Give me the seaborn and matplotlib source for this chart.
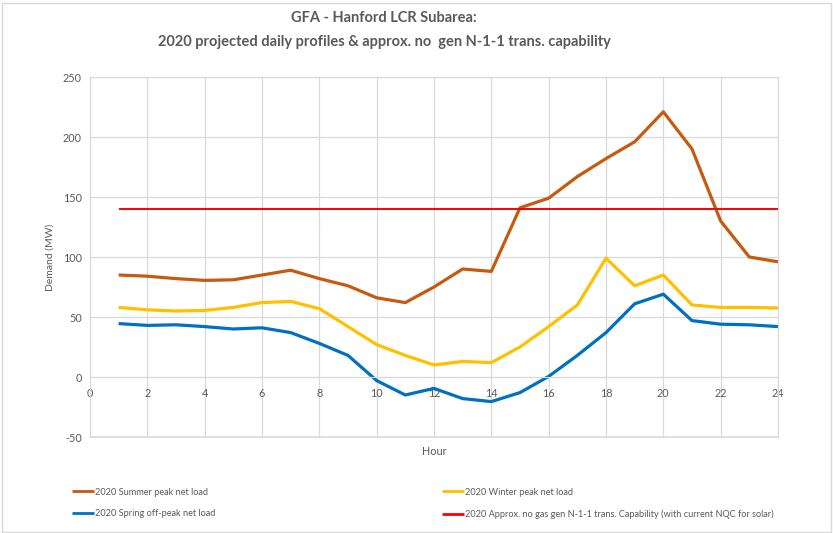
import pandas as pd
import matplotlib.pyplot as plt
import seaborn as sns
from matplotlib.patches import Rectangle

# Dados (MW por hora)
horas = list(range(1, 25))
verao = [85, 84, 82, 80.5, 81, 85, 89, 82, 76, 66, 62, 75,
         90, 88, 141, 149, 167, 182, 196, 221, 190, 130, 100, 96]
inverno = [58, 56, 55, 55.5, 58, 62, 63, 57, 42, 27, 18, 10,
           13, 12, 25, 42, 60, 99, 76, 85, 60, 58, 58, 57.5]
primavera = [44.5, 43, 43.5, 42, 40, 41, 37, 28, 18, -3, -15, -9.5,
             -18, -20.5, -13, 0.5, 18, 37, 61, 69, 47, 44, 43.5, 42]
capacidade = [140] * 24

rotulos = ['2020 Summer peak net load',
           '2020 Winter peak net load',
           '2020 Spring off-peak net load',
           '2020 Approx. no gas gen N-1-1 trans. Capability (with current NQC for solar)']
cores = ['#C55A11', '#FFC000', '#0070C0', '#FF0000']

df = pd.DataFrame({'Hora': horas, rotulos[0]: verao, rotulos[1]: inverno,
                   rotulos[2]: primavera, rotulos[3]: capacidade})

sns.set_style('white')
plt.rcParams['font.family'] = ['Lato', 'DejaVu Sans']
plt.rcParams['axes.unicode_minus'] = False

fig = plt.figure(figsize=(8.33, 5.33), dpi=100)
ax = fig.add_axes([90 / 833, 1 - 437 / 533, 688 / 833, 360 / 533])

larguras = [2.3, 2.3, 2.3, 1.4]
linhas = []
for rot, cor, lw in zip(rotulos, cores, larguras):
    sns.lineplot(data=df, x='Hora', y=rot, color=cor, linewidth=lw, ax=ax,
                 legend=False, solid_joinstyle='round', solid_capstyle='butt')
    linhas.append(ax.lines[-1])

cinza = '#d9d9d9'
ax.set_xlim(0, 24)
ax.set_ylim(-50, 250)
ax.set_xticks(range(0, 25, 2))
ax.set_yticks(range(-50, 251, 50))
ax.grid(True, color=cinza, linewidth=0.9)
for s in ['left', 'right', 'top']:
    ax.spines[s].set_color(cinza)
ax.spines['bottom'].set_position(('data', 0))
ax.spines['bottom'].set_color(cinza)
ax.axhline(-50, color=cinza, linewidth=1.2, clip_on=False, zorder=0)
ax.tick_params(axis='both', length=0, labelsize=7.8, labelcolor='#595959')
ax.tick_params(axis='x', pad=8)
ax.tick_params(axis='y', pad=6)

ax.set_xlabel('Hour', fontsize=7.8, color='#595959')
ax.xaxis.set_label_coords(0.5, -0.025)
ax.set_ylabel('Demand (MW)', fontsize=7.5, color='#595959')
ax.yaxis.set_label_coords(-0.052, 0.5)

fig.text(384 / 833, 1 - 18 / 533, 'GFA - Hanford LCR Subarea:', ha='center', va='center',
         fontsize=10.5, fontweight='bold', color='#595959')
fig.text(384 / 833, 1 - 42 / 533,
         '2020 projected daily profiles & approx. no  gen N-1-1 trans. capability',
         ha='center', va='center', fontsize=10.5, fontweight='bold', color='#595959')

leg_kw = dict(frameon=False, fontsize=6.6, handlelength=2.4, handletextpad=0.1,
              labelspacing=1.4, labelcolor='#595959', borderaxespad=0)
leg1 = fig.legend([linhas[0], linhas[2]], [rotulos[0], rotulos[2]], loc='upper left',
                  bbox_to_anchor=(68 / 833, 1 - 484 / 533), **leg_kw)
leg2 = fig.legend([linhas[1], linhas[3]], [rotulos[1], rotulos[3]], loc='upper left',
                  bbox_to_anchor=(438 / 833, 1 - 484 / 533), **leg_kw)
for leg in (leg1, leg2):
    for h in leg.legend_handles:
        h.set_linewidth(2.0)

fig.patches.append(Rectangle((0.002, 0.002), 0.995, 0.993, transform=fig.transFigure,
                             fill=False, edgecolor=cinza, linewidth=1))

fig.savefig('out.png', dpi=100)
